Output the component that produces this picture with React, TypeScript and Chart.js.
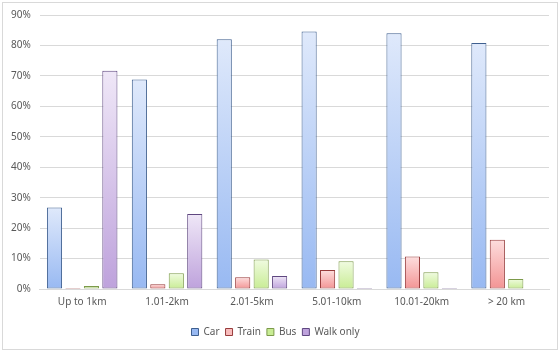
import React, { useEffect, useRef } from "react";
import { Chart, registerables } from "chart.js";

Chart.register(...registerables);

const categories = ["Up to 1km", "1.01-2km", "2.01-5km", "5.01-10km", "10.01-20km", "> 20 km"];
const carValues = [26.8, 68.8, 82.0, 84.6, 84.0, 80.8];
const trainValues = [0.3, 1.6, 3.9, 6.2, 10.7, 16.2];
const busValues = [1.0, 5.2, 9.7, 9.1, 5.5, 3.3];
const walkValues = [71.7, 24.6, 4.3, 0.3, 0.3, 0.0];
const yTicks = [0, 10, 20, 30, 40, 50, 60, 70, 80, 90];

const palette = {
  car: { top: "#dfe9fb", bottom: "#98b9f2", border: "#3e5f8f", flat: "#bcd2f7" },
  train: { top: "#fddede", bottom: "#f39494", border: "#983c3c", flat: "#f8bcbc" },
  bus: { top: "#f0fbe0", bottom: "#c8ec94", border: "#7c9a4a", flat: "#e0f5c2" },
  walk: { top: "#efe7f7", bottom: "#bea2dc", border: "#5f4780", flat: "#dacbeb" },
};

function gradientFill(p: { top: string; bottom: string; flat: string }) {
  return (ctx: any) => {
    const chart = ctx.chart;
    const y = chart.scales && chart.scales.y;
    if (!y || ctx.raw === undefined || ctx.raw === null || ctx.dataIndex === undefined) return p.flat;
    const top = y.getPixelForValue(ctx.raw);
    const base = y.getPixelForValue(0);
    if (!isFinite(top) || !isFinite(base) || Math.abs(base - top) < 1) return p.flat;
    const g = chart.ctx.createLinearGradient(0, top, 0, base);
    g.addColorStop(0, p.top);
    g.addColorStop(1, p.bottom);
    return g;
  };
}

const frame = {
  id: "frame",
  afterDraw(chart: any) {
    const c = chart.ctx;
    c.save();
    c.strokeStyle = "#d9d9d9";
    c.lineWidth = 1;
    c.strokeRect(2.5, 2.5, chart.width - 5, chart.height - 5);
    c.restore();
  },
};

export default function App() {
  const ref = useRef<HTMLCanvasElement | null>(null);
  useEffect(() => {
    document.body.style.margin = "0";
    if (!ref.current) return;
    const mk = (label: string, data: number[], p: any) => ({
      label,
      data,
      backgroundColor: gradientFill(p),
      borderColor: p.border,
      borderWidth: 1,
      borderSkipped: false,
      categoryPercentage: 0.87,
      barPercentage: 0.82,
    });
    const chart = new Chart(ref.current, {
      type: "bar",
      data: {
        labels: categories,
        datasets: [
          mk("Car", carValues, palette.car),
          mk("Train", trainValues, palette.train),
          mk("Bus", busValues, palette.bus),
          mk("Walk only", walkValues, palette.walk),
        ],
      },
      options: {
        animation: false,
        responsive: false,
        maintainAspectRatio: false,
        layout: { padding: { left: 2, right: 11, top: 14, bottom: 5 } },
        plugins: {
          tooltip: { enabled: false },
          legend: {
            position: "bottom",
            title: { display: true, text: "", padding: 0, font: { size: 5, lineHeight: 1.2 } },
            labels: {
              boxWidth: 7,
              boxHeight: 7,
              padding: 6,
              color: "#595959",
              font: { family: "Noto Sans", size: 10 },
            },
          },
        },
        scales: {
          x: {
            grid: { display: false, drawTicks: false },
            border: { display: true, color: "#d9d9d9" },
            ticks: { color: "#595959", padding: 7, font: { family: "Noto Sans", size: 10 } },
          },
          y: {
            min: 0,
            max: 90,
            afterBuildTicks: (axis: any) => {
              axis.ticks = yTicks.map((v) => ({ value: v }));
            },
            grid: { color: "#d9d9d9", drawTicks: false },
            border: { display: false },
            ticks: {
              color: "#595959",
              padding: 9,
              font: { family: "Noto Sans", size: 10 },
              callback: (v: any) => v + "%",
            },
          },
        },
      },
      plugins: [frame],
    });
    return () => chart.destroy();
  }, []);
  return (
    <div style={{ width: 560, height: 352 }}>
      <canvas ref={ref} width={560} height={352} style={{ display: "block" }} />
    </div>
  );
}
